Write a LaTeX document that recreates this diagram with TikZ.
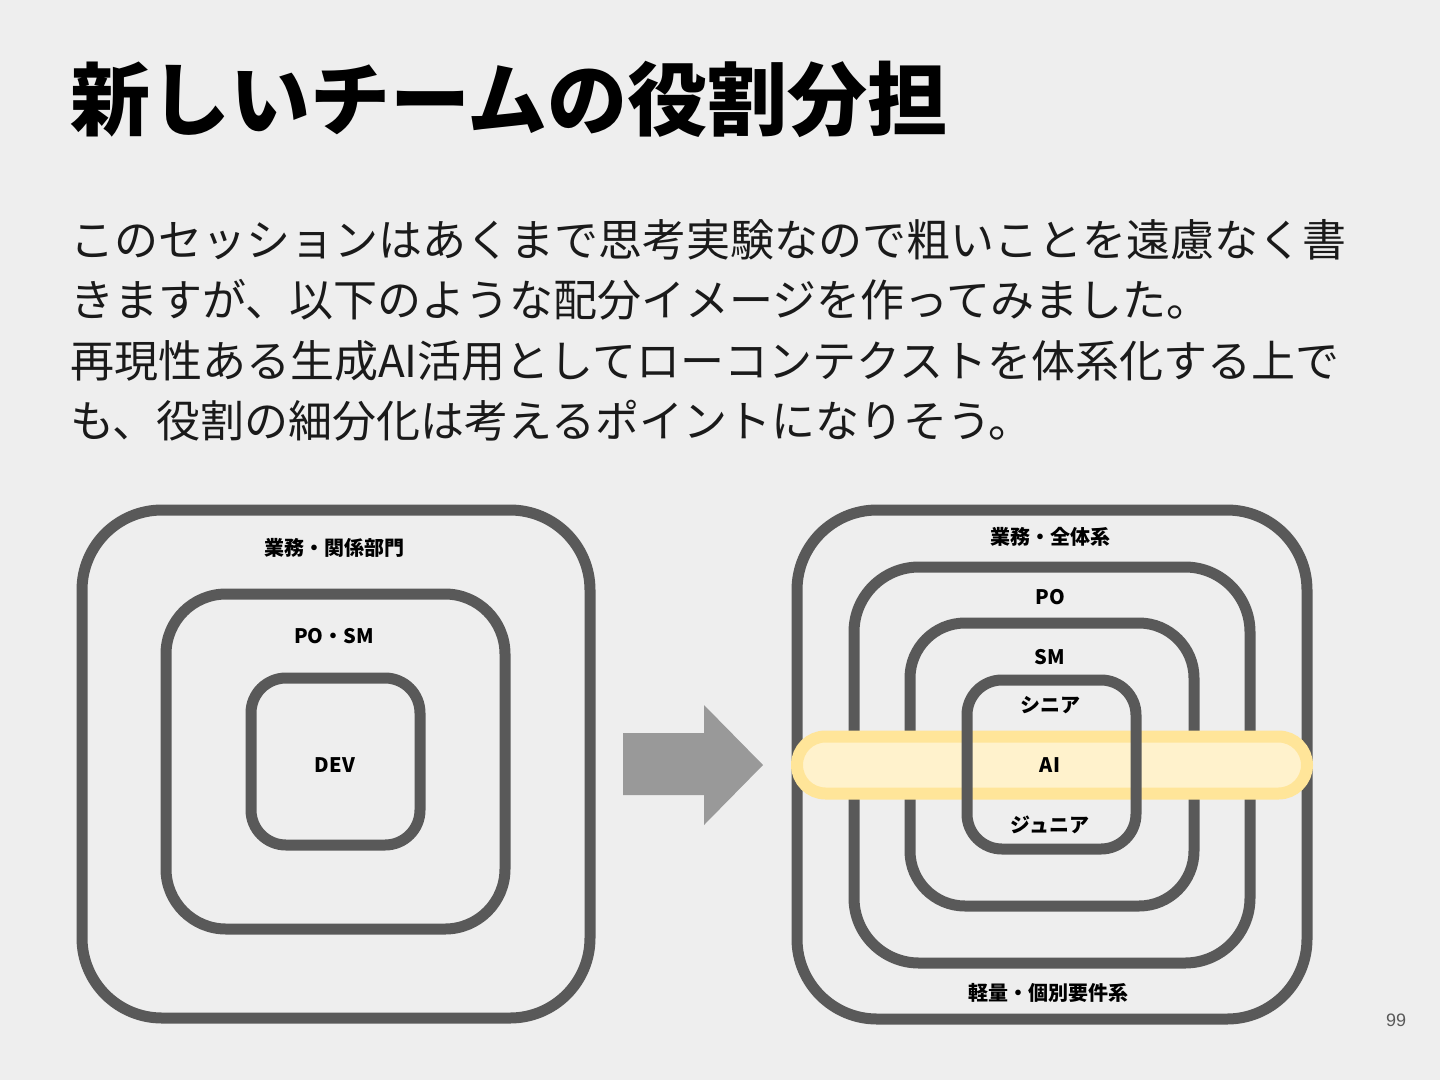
\documentclass[tikz,border=0pt]{standalone}
\usepackage{fontspec}
\newfontfamily\jp{Noto Sans CJK JP}
\setsansfont{Liberation Sans}
\definecolor{bg}{HTML}{EEEEEE}
\definecolor{boxgray}{HTML}{595959}
\definecolor{arrowgray}{HTML}{999999}
\definecolor{bandfill}{HTML}{FFF2CC}
\definecolor{bandline}{HTML}{FFE599}
\definecolor{txt}{HTML}{1A1A1A}
\tikzset{
  ring/.style={draw=boxgray, line width=11pt, minimum width=#1, inner sep=0pt, outer sep=0pt},
  lbl/.style={font=\jp\bfseries\fontsize{20}{24}\selectfont, text=black, inner sep=0pt},
  bodyline/.style={anchor=west, font=\jp\fontsize{44}{52}\selectfont, text=txt, inner sep=0pt},
}
\begin{document}
\begin{tikzpicture}[x=1pt,y=-1pt]
\fill[bg] (0,0) rectangle (1440,1080);
\useasboundingbox (0,0) rectangle (1440,1080);

% title
\node[anchor=west, font=\jp\bfseries\fontsize{80}{96}\selectfont, text=black, inner sep=0pt] (title) at (70,99) {新しいチームの役割分担};

% body
\node[bodyline] (b1) at (70,240) {このセッションはあくまで思考実験なので粗いことを遠慮なく書};
\node[bodyline] (b2) at (70,300) {きますが、以下のような配分イメージを作ってみました。};
\node[bodyline] (b3) at (70,361) {再現性ある生成AI活用としてローコンテクストを体系化する上で};
\node[bodyline] (b4) at (70,421) {も、役割の細分化は考えるポイントになりそう。};

% left diagram
\node[ring=508pt, minimum height=508pt, rounded corners=80pt] (L1) at (336,764) {};
\node[ring=339pt, minimum height=335pt, rounded corners=60pt] (L2) at (335.5,761.5) {};
\node[ring=169pt, minimum height=167pt, rounded corners=35pt] (L3) at (335.5,761.5) {};
\node[lbl] (l1) at (334,548) {業務・関係部門};
\node[lbl] (l2) at (334,636) {PO・SM};
\node[lbl] (l3) at (335,765) {DEV};

% arrow
\fill[arrowgray] (623,733) -- (704,733) -- (704,705) -- (763,765) -- (704,825) -- (704,795) -- (623,795) -- cycle;

% right diagram
\node[ring=510pt, minimum height=509pt, rounded corners=80pt] (R1) at (1052,764.5) {};
\node[ring=396pt, minimum height=396pt, rounded corners=65pt] (R2) at (1052,765) {};
\node[ring=284pt, minimum height=283pt, rounded corners=55pt] (R3) at (1052,764.5) {};
\node[draw=bandline, fill=bandfill, line width=12pt, minimum width=510pt, minimum height=57pt, rounded corners=28.5pt, inner sep=0pt, outer sep=0pt] (band) at (1052,765) {};
\node[ring=169pt, minimum height=169pt, rounded corners=35pt] (R4) at (1051.5,764.5) {};
\node[lbl] (r1) at (1050,537) {業務・全体系};
\node[lbl] (r2) at (1050,597) {PO};
\node[lbl] (r3) at (1050,657) {SM};
\node[lbl] (r4) at (1050,705) {シニア};
\node[lbl] (r5) at (1050,765) {AI};
\node[lbl] (r6) at (1050,825) {ジュニア};
\node[lbl] (r7) at (1048,993) {軽量・個別要件系};

% page number
\node[font=\sffamily\fontsize{18}{22}\selectfont, text=boxgray, inner sep=0pt] (pg) at (1396,1020) {99};
\end{tikzpicture}
\end{document}
